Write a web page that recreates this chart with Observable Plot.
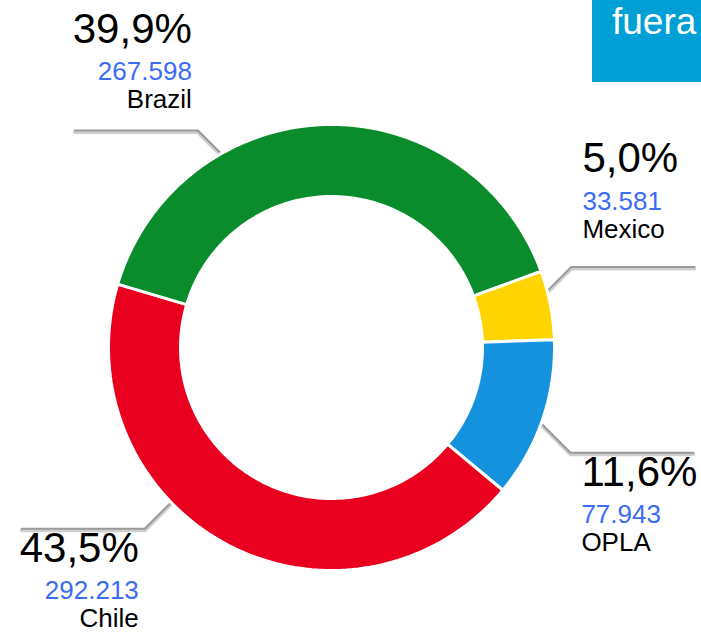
<!DOCTYPE html>
<html>
<head>
<meta charset="utf-8">
<script src="https://cdn.jsdelivr.net/npm/d3@7"></script>
<script src="https://cdn.jsdelivr.net/npm/@observablehq/plot@0.6"></script>
<style>
  html, body { margin: 0; padding: 0; background: #fff; }
  #wrap { position: relative; width: 701px; height: 632px; overflow: hidden; }
  #badge { position: absolute; left: 592px; top: 0; width: 130px; height: 82px; background: #00a0d6; }
  #badge span { position: absolute; left: 20px; top: 3px; color: #fff;
                font-family: "Liberation Sans", Arial, sans-serif; font-size: 37px; line-height: 1; white-space: nowrap; }
</style>
</head>
<body>
<div id="wrap"><div id="badge"><span>fuera</span></div></div>
<script>
// ---- data ----
const categories = ["Mexico", "OPLA", "Chile", "Brazil"];
const votes = [33581, 77943, 292213, 267598];
const colors = ["#ffd400", "#1592dd", "#e8001e", "#0a8c2d"];

// ---- layout (not data) ----
const W = 701, H = 632;
const cx = 331, cy = 347, R = 223, r = 151;
const startAngle = 70;                          // degrees, clockwise from north
const leaderAngles = [75.5, 109.8, 226, 330.4]; // where each leader touches the ring
const elbowSizes = [25, 30, 27, 24];
const labelShift = [-3, 0, 0, 4];
const leaderR = 222, run = 123;

const total = d3.sum(votes);
const pctFmt = v => d3.format(".1f")(v).replace(".", ",") + "%";
const numFmt = d3.formatLocale({decimal: ",", thousands: ".", grouping: [3], currency: ["", ""]}).format(",");

const rad = a => a * Math.PI / 180;
const px = (a, rho) => cx + rho * Math.sin(rad(a));
const py = (a, rho) => cy - rho * Math.cos(rad(a));

// slice polygons
const slicePts = [];
let acc = startAngle;
categories.forEach((name, i) => {
  const a0 = acc, a1 = acc + votes[i] / total * 360;
  acc = a1;
  const n = Math.max(4, Math.ceil((a1 - a0) / 1.5));
  for (let k = 0; k <= n; k++) { const a = a0 + (a1 - a0) * k / n; slicePts.push({name, x: px(a, R), y: py(a, R)}); }
  for (let k = n; k >= 0; k--) { const a = a0 + (a1 - a0) * k / n; slicePts.push({name, x: px(a, r), y: py(a, r)}); }
});

// leaders + labels
const leaderPts = [];
const texts = [];
categories.forEach((name, i) => {
  const a = leaderAngles[i], e = elbowSizes[i];
  const x0 = px(a, leaderR), y0 = py(a, leaderR);
  const sx = Math.sin(rad(a)) >= 0 ? 1 : -1;
  const sy = Math.cos(rad(a)) >= 0 ? -1 : 1;
  const ex = x0 + sx * e, ey = y0 + sy * e;
  const fx = ex + sx * run;
  leaderPts.push({name, x: x0, y: y0}, {name, x: ex, y: ey}, {name, x: fx, y: ey});
  const anchor = sx > 0 ? "start" : "end";
  const tx = sx > 0 ? ex + 11 : ex - 6;
  let yPct, yVal, yName;
  const base = ey + labelShift[i];
  if (sy < 0) { yName = base - 26; yVal = yName - 28; yPct = yVal - 37.5; }
  else { yPct = base + 33; yVal = yPct + 37.5; yName = yVal + 27.5; }
  const pct = votes[i] / total * 100;
  texts.push({x: tx, y: yPct, t: pctFmt(pct), size: 42, fill: "#000", anchor});
  texts.push({x: tx, y: yVal, t: numFmt(votes[i]), size: 26, fill: "#3b6cf5", anchor});
  texts.push({x: tx, y: yName, t: name, size: 26, fill: "#000", anchor});
});

const chart = Plot.plot({
  width: W, height: H,
  margin: 0,
  style: {fontFamily: "'Liberation Sans', Arial, sans-serif", background: "transparent"},
  x: {domain: [0, W], axis: null},
  y: {domain: [H, 0], axis: null},
  color: {domain: categories, range: colors},
  marks: [
    Plot.line(leaderPts, {x: "x", y: "y", z: "name", stroke: "#cfcfcf", strokeWidth: 4, dy: 1.5, strokeLinejoin: "miter"}),
    Plot.line(leaderPts, {x: "x", y: "y", z: "name", stroke: "#9a9a9a", strokeWidth: 2, strokeLinejoin: "miter"}),
    Plot.line(slicePts, {x: "x", y: "y", z: "name", fill: "name", stroke: "white", strokeWidth: 3, curve: "linear-closed"}),
    Plot.text(texts.filter(d => d.anchor === "start"), {x: "x", y: "y", text: "t", fontSize: "size", fill: "fill", textAnchor: "start", lineAnchor: "bottom"}),
    Plot.text(texts.filter(d => d.anchor === "end"), {x: "x", y: "y", text: "t", fontSize: "size", fill: "fill", textAnchor: "end", lineAnchor: "bottom"})
  ]
});
chart.style.position = "absolute";
chart.style.left = "0";
chart.style.top = "0";
document.getElementById("wrap").prepend(chart);
</script>
</body>
</html>
